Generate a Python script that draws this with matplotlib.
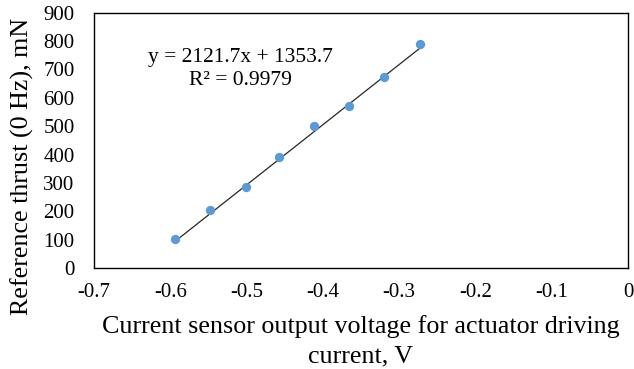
import matplotlib
matplotlib.use("Agg")
import matplotlib.pyplot as plt
import numpy as np

plt.rcParams['font.family'] = ['Liberation Serif', 'DejaVu Serif']

voltage = [-0.594, -0.548, -0.501, -0.457, -0.412, -0.366, -0.320, -0.273]
thrust = [102, 205, 286, 390, 502, 570, 673, 790]
slope, intercept = 2121.7, 1353.7
xticks = [-0.7, -0.6, -0.5, -0.4, -0.3, -0.2, -0.1, 0]
xticklabels = ["-0.7", "-0.6", "-0.5", "-0.4", "-0.3", "-0.2", "-0.1", "0"]
yticks = list(range(0, 901, 100))

W, H = 634, 369
fig = plt.figure(figsize=(W / 100, H / 100), dpi=100)
L, R, T, B = 94, 628, 12.7, 268
ax = fig.add_axes([L / W, 1 - B / H, (R - L) / W, (B - T) / H])

ax.scatter(voltage, thrust, s=45, color='#5B9BD5', zorder=3, linewidths=0)
xf = np.array([min(voltage), max(voltage)])
ax.plot(xf, slope * xf + intercept, color='#262626', lw=0.9, zorder=2)

ax.set_xlim(-0.7, 0)
ax.set_ylim(0, 900)
ax.set_xticks(xticks)
ax.set_xticklabels(xticklabels)
ax.set_yticks(yticks)
ax.tick_params(length=0, labelsize=15)
ax.tick_params(axis='x', pad=11)
ax.tick_params(axis='y', pad=14)
for s in ax.spines.values():
    s.set_linewidth(1.0)
    s.set_color('black')

ax.text(-0.508, 727, "y = 2121.7x + 1353.7", ha='center', va='baseline', fontsize=15.5)
ax.text(-0.508, 645, "R² = 0.9979", ha='center', va='baseline', fontsize=15.5)

fig.text(361 / W, 1 - 333 / H, "Current sensor output voltage for actuator driving",
         ha='center', va='baseline', fontsize=18.7)
fig.text(361 / W, 1 - 362 / H, "current, V", ha='center', va='baseline', fontsize=18.7)
fig.text(22 / W, 1 - 166 / H, "Reference thrust (0 Hz), mN", ha='center', va='center',
         rotation=90, fontsize=18.7)

fig.savefig("out.png", dpi=100)
